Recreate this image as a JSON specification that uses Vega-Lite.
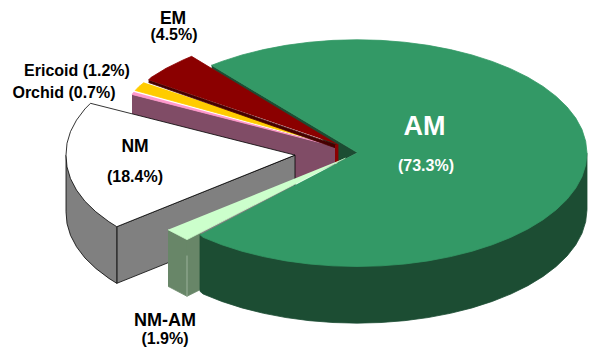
{
"$schema":"https://vega.github.io/schema/vega-lite/v6.json",
"width":589,"height":347,"padding":0,
"autosize":{"type":"fit","contains":"padding"},
"background":"white",
"view":{"stroke":null},
"datasets":{
"outlines":[
{"shape":"Orchid wall","seq":1,"x":132,"y":95},{"shape":"Orchid wall","seq":2,"x":335,"y":147},{"shape":"Orchid wall","seq":3,"x":335,"y":165},{"shape":"Orchid wall","seq":4,"x":295,"y":182},{"shape":"Orchid wall","seq":5,"x":132,"y":152},
{"shape":"Orchid","seq":1,"x":134,"y":92.5},{"shape":"Orchid","seq":2,"x":132,"y":95},{"shape":"Orchid","seq":3,"x":336,"y":147.5},
{"shape":"Ericoid","seq":1,"x":144,"y":83},{"shape":"Ericoid","seq":2,"x":139,"y":87},{"shape":"Ericoid","seq":3,"x":135.2,"y":91},{"shape":"Ericoid","seq":4,"x":336,"y":146.5},
{"shape":"AM wall","seq":1,"x":211.6,"y":65.7},{"shape":"AM wall","seq":2,"x":357.5,"y":153.5},{"shape":"AM wall","seq":3,"x":338,"y":163.5},{"shape":"AM wall","seq":4,"x":338,"y":150},{"shape":"AM wall","seq":5,"x":211.6,"y":69},
{"shape":"EM edge","seq":1,"x":148.6,"y":80.4},{"shape":"EM edge","seq":2,"x":337,"y":146},{"shape":"EM edge","seq":3,"x":335,"y":148.5},{"shape":"EM edge","seq":4,"x":148.6,"y":83},
{"shape":"EM wall","seq":1,"x":335,"y":146},{"shape":"EM wall","seq":2,"x":338,"y":145},{"shape":"EM wall","seq":3,"x":338,"y":163},{"shape":"EM wall","seq":4,"x":335,"y":163.5},
{"shape":"EM","seq":1,"x":148.6,"y":80.4},{"shape":"EM","seq":2,"x":150.9,"y":78},{"shape":"EM","seq":3,"x":166.1,"y":68.7},{"shape":"EM","seq":4,"x":183.1,"y":60.3},{"shape":"EM","seq":5,"x":191.6,"y":56.7},{"shape":"EM","seq":6,"x":337,"y":145},
{"shape":"NM inner","seq":1,"x":295,"y":156},{"shape":"NM inner","seq":2,"x":116.8,"y":228},{"shape":"NM inner","seq":3,"x":116.8,"y":285},{"shape":"NM inner","seq":4,"x":295,"y":213},{"shape":"NM inner","seq":5,"x":295,"y":156},
{"shape":"NM outer","seq":1,"x":66,"y":156},{"shape":"NM outer","seq":2,"x":66,"y":213},{"shape":"NM outer","seq":3,"x":67,"y":224.9},{"shape":"NM outer","seq":4,"x":70.5,"y":236.7},{"shape":"NM outer","seq":5,"x":76.5,"y":248.2},{"shape":"NM outer","seq":6,"x":84.9,"y":259.4},{"shape":"NM outer","seq":7,"x":95.8,"y":270},{"shape":"NM outer","seq":8,"x":108.9,"y":280},{"shape":"NM outer","seq":9,"x":116.8,"y":285},{"shape":"NM outer","seq":10,"x":116.8,"y":228},
{"shape":"NM","seq":1,"x":295,"y":156},{"shape":"NM","seq":2,"x":90.5,"y":103.9},{"shape":"NM","seq":3,"x":84.9,"y":109.6},{"shape":"NM","seq":4,"x":76.5,"y":120.8},{"shape":"NM","seq":5,"x":70.5,"y":132.3},{"shape":"NM","seq":6,"x":67,"y":144.1},{"shape":"NM","seq":7,"x":66,"y":156},{"shape":"NM","seq":8,"x":67,"y":167.9},{"shape":"NM","seq":9,"x":70.5,"y":179.7},{"shape":"NM","seq":10,"x":76.5,"y":191.2},{"shape":"NM","seq":11,"x":84.9,"y":202.4},{"shape":"NM","seq":12,"x":95.8,"y":213},{"shape":"NM","seq":13,"x":108.9,"y":223},{"shape":"NM","seq":14,"x":116.8,"y":228},{"shape":"NM","seq":15,"x":295,"y":156},
{"shape":"NM-AM outer","seq":1,"x":168,"y":231},{"shape":"NM-AM outer","seq":2,"x":187,"y":241},{"shape":"NM-AM outer","seq":3,"x":187,"y":298},{"shape":"NM-AM outer","seq":4,"x":168,"y":288},
{"shape":"NM-AM inner","seq":1,"x":187,"y":241},{"shape":"NM-AM inner","seq":2,"x":201,"y":234},{"shape":"NM-AM inner","seq":3,"x":201,"y":291},{"shape":"NM-AM inner","seq":4,"x":187,"y":298},
{"shape":"NM-AM crease","seq":1,"x":187,"y":257},{"shape":"NM-AM crease","seq":2,"x":187,"y":298},
{"shape":"NM-AM","seq":1,"x":168,"y":231},{"shape":"NM-AM","seq":2,"x":187,"y":241},{"shape":"NM-AM","seq":3,"x":345.5,"y":159},
{"shape":"AM side","seq":1,"x":200,"y":236},{"shape":"AM side","seq":2,"x":200,"y":293},{"shape":"AM side","seq":3,"x":203.1,"y":295.7},{"shape":"AM side","seq":4,"x":221.8,"y":303.2},{"shape":"AM side","seq":5,"x":242,"y":309.7},{"shape":"AM side","seq":6,"x":263.5,"y":315.1},{"shape":"AM side","seq":7,"x":285.9,"y":319.4},{"shape":"AM side","seq":8,"x":309.2,"y":322.5},{"shape":"AM side","seq":9,"x":333,"y":324.4},{"shape":"AM side","seq":10,"x":357,"y":325},{"shape":"AM side","seq":11,"x":381,"y":324.4},{"shape":"AM side","seq":12,"x":404.8,"y":322.5},{"shape":"AM side","seq":13,"x":428.1,"y":319.4},{"shape":"AM side","seq":14,"x":450.5,"y":315.1},{"shape":"AM side","seq":15,"x":472,"y":309.7},{"shape":"AM side","seq":16,"x":492.2,"y":303.2},{"shape":"AM side","seq":17,"x":510.9,"y":295.7},{"shape":"AM side","seq":18,"x":527.9,"y":287.3},{"shape":"AM side","seq":19,"x":543.1,"y":278},{"shape":"AM side","seq":20,"x":556.2,"y":268},{"shape":"AM side","seq":21,"x":567.1,"y":257.4},{"shape":"AM side","seq":22,"x":575.8,"y":246.2},{"shape":"AM side","seq":23,"x":582,"y":234.7},{"shape":"AM side","seq":24,"x":585.7,"y":222.9},{"shape":"AM side","seq":25,"x":587,"y":211},{"shape":"AM side","seq":26,"x":587,"y":154},
{"shape":"AM","seq":1,"x":357.5,"y":153.5},{"shape":"AM","seq":2,"x":211.6,"y":65.7},{"shape":"AM","seq":3,"x":221.8,"y":61.8},{"shape":"AM","seq":4,"x":242,"y":55.3},{"shape":"AM","seq":5,"x":263.5,"y":49.9},{"shape":"AM","seq":6,"x":285.9,"y":45.6},{"shape":"AM","seq":7,"x":309.2,"y":42.5},{"shape":"AM","seq":8,"x":333,"y":40.6},{"shape":"AM","seq":9,"x":357,"y":40},{"shape":"AM","seq":10,"x":381,"y":40.6},{"shape":"AM","seq":11,"x":404.8,"y":42.5},{"shape":"AM","seq":12,"x":428.1,"y":45.6},{"shape":"AM","seq":13,"x":450.5,"y":49.9},{"shape":"AM","seq":14,"x":472,"y":55.3},{"shape":"AM","seq":15,"x":492.2,"y":61.8},{"shape":"AM","seq":16,"x":510.9,"y":69.3},{"shape":"AM","seq":17,"x":527.9,"y":77.7},{"shape":"AM","seq":18,"x":543.1,"y":87},{"shape":"AM","seq":19,"x":556.2,"y":97},{"shape":"AM","seq":20,"x":567.1,"y":107.6},{"shape":"AM","seq":21,"x":575.8,"y":118.8},{"shape":"AM","seq":22,"x":582,"y":130.3},{"shape":"AM","seq":23,"x":585.7,"y":142.1},{"shape":"AM","seq":24,"x":587,"y":154},{"shape":"AM","seq":25,"x":585.7,"y":165.9},{"shape":"AM","seq":26,"x":582,"y":177.7},{"shape":"AM","seq":27,"x":575.8,"y":189.2},{"shape":"AM","seq":28,"x":567.1,"y":200.4},{"shape":"AM","seq":29,"x":556.2,"y":211},{"shape":"AM","seq":30,"x":543.1,"y":221},{"shape":"AM","seq":31,"x":527.9,"y":230.3},{"shape":"AM","seq":32,"x":510.9,"y":238.7},{"shape":"AM","seq":33,"x":492.2,"y":246.2},{"shape":"AM","seq":34,"x":472,"y":252.7},{"shape":"AM","seq":35,"x":450.5,"y":258.1},{"shape":"AM","seq":36,"x":428.1,"y":262.4},{"shape":"AM","seq":37,"x":404.8,"y":265.5},{"shape":"AM","seq":38,"x":381,"y":267.4},{"shape":"AM","seq":39,"x":357,"y":268},{"shape":"AM","seq":40,"x":333,"y":267.4},{"shape":"AM","seq":41,"x":309.2,"y":265.5},{"shape":"AM","seq":42,"x":285.9,"y":262.4},{"shape":"AM","seq":43,"x":263.5,"y":258.1},{"shape":"AM","seq":44,"x":242,"y":252.7},{"shape":"AM","seq":45,"x":221.8,"y":246.2},{"shape":"AM","seq":46,"x":203.1,"y":238.7},{"shape":"AM","seq":47,"x":200,"y":236}
],
"labels":[
{"label":"EM","tier":"name","x":173,"y":24.5},
{"label":"(4.5%)","tier":"share","x":174,"y":40},
{"label":"Ericoid (1.2%)","tier":"share","x":77,"y":76},
{"label":"Orchid (0.7%)","tier":"share","x":64,"y":98.5},
{"label":"NM","tier":"name","x":135,"y":153},
{"label":"(18.4%)","tier":"share","x":135,"y":183},
{"label":"NM-AM","tier":"large","x":165,"y":327.5},
{"label":"(1.9%)","tier":"share","x":165,"y":346},
{"label":"AM","tier":"title","x":424.5,"y":136},
{"label":"(73.3%)","tier":"inside","x":426,"y":172}
]
},
"encoding":{
"x":{"field":"x","type":"quantitative","axis":null,"scale":{"domain":[0,589],"nice":false,"zero":false}},
"y":{"field":"y","type":"quantitative","axis":null,"scale":{"domain":[347,0],"nice":false,"zero":false}}
},
"layer":[
{"data":{"name":"outlines"},
"mark":{"type":"line","strokeWidth":0.8,"strokeJoin":"miter","clip":false},
"encoding":{
"order":{"field":"seq","type":"quantitative"},
"detail":{"field":"shape"},
"fill":{"field":"shape","type":"nominal","legend":null,"scale":{
"domain":["Orchid wall","Orchid","Ericoid","AM wall","EM edge","EM wall","EM","NM inner","NM outer","NM","NM-AM outer","NM-AM inner","NM-AM crease","NM-AM","AM side","AM"],
"range":["#804C66","#FF99CC","#FFCC00","#1C4D33","#450000","#8B0000","#8B0000","#808080","#808080","#FFFFFF","#688668","#688668","#688668","#CCFFCC","#1C4D33","#339966"]}},
"stroke":{"field":"shape","type":"nominal","legend":null,"scale":{
"domain":["Orchid wall","Orchid","Ericoid","AM wall","EM edge","EM wall","EM","NM inner","NM outer","NM","NM-AM outer","NM-AM inner","NM-AM crease","NM-AM","AM side","AM"],
"range":["#804C66","#FF99CC","#FFCC00","#1C4D33","#450000","#8B0000","#8B0000","#000000","#000000","#000000","#688668","#688668","#A8BCA8","#CCFFCC","#1C4D33","#339966"]}}
}},
{"data":{"name":"labels"},"transform":[{"filter":"datum.tier === 'name'"}],
"mark":{"type":"text","font":"Liberation Sans","fontWeight":"bold","fontSize":17.5,"align":"center","baseline":"alphabetic","color":"#000000"},
"encoding":{"text":{"field":"label"}}},
{"data":{"name":"labels"},"transform":[{"filter":"datum.tier === 'large'"}],
"mark":{"type":"text","font":"Liberation Sans","fontWeight":"bold","fontSize":18,"align":"center","baseline":"alphabetic","color":"#000000"},
"encoding":{"text":{"field":"label"}}},
{"data":{"name":"labels"},"transform":[{"filter":"datum.tier === 'share'"}],
"mark":{"type":"text","font":"Liberation Sans","fontWeight":"bold","fontSize":16,"align":"center","baseline":"alphabetic","color":"#000000"},
"encoding":{"text":{"field":"label"}}},
{"data":{"name":"labels"},"transform":[{"filter":"datum.tier === 'title'"}],
"mark":{"type":"text","font":"Liberation Sans","fontWeight":"bold","fontSize":27,"align":"center","baseline":"alphabetic","color":"#FFFFFF"},
"encoding":{"text":{"field":"label"}}},
{"data":{"name":"labels"},"transform":[{"filter":"datum.tier === 'inside'"}],
"mark":{"type":"text","font":"Liberation Sans","fontWeight":"bold","fontSize":16,"align":"center","baseline":"alphabetic","color":"#FFFFFF"},
"encoding":{"text":{"field":"label"}}}
]
}
